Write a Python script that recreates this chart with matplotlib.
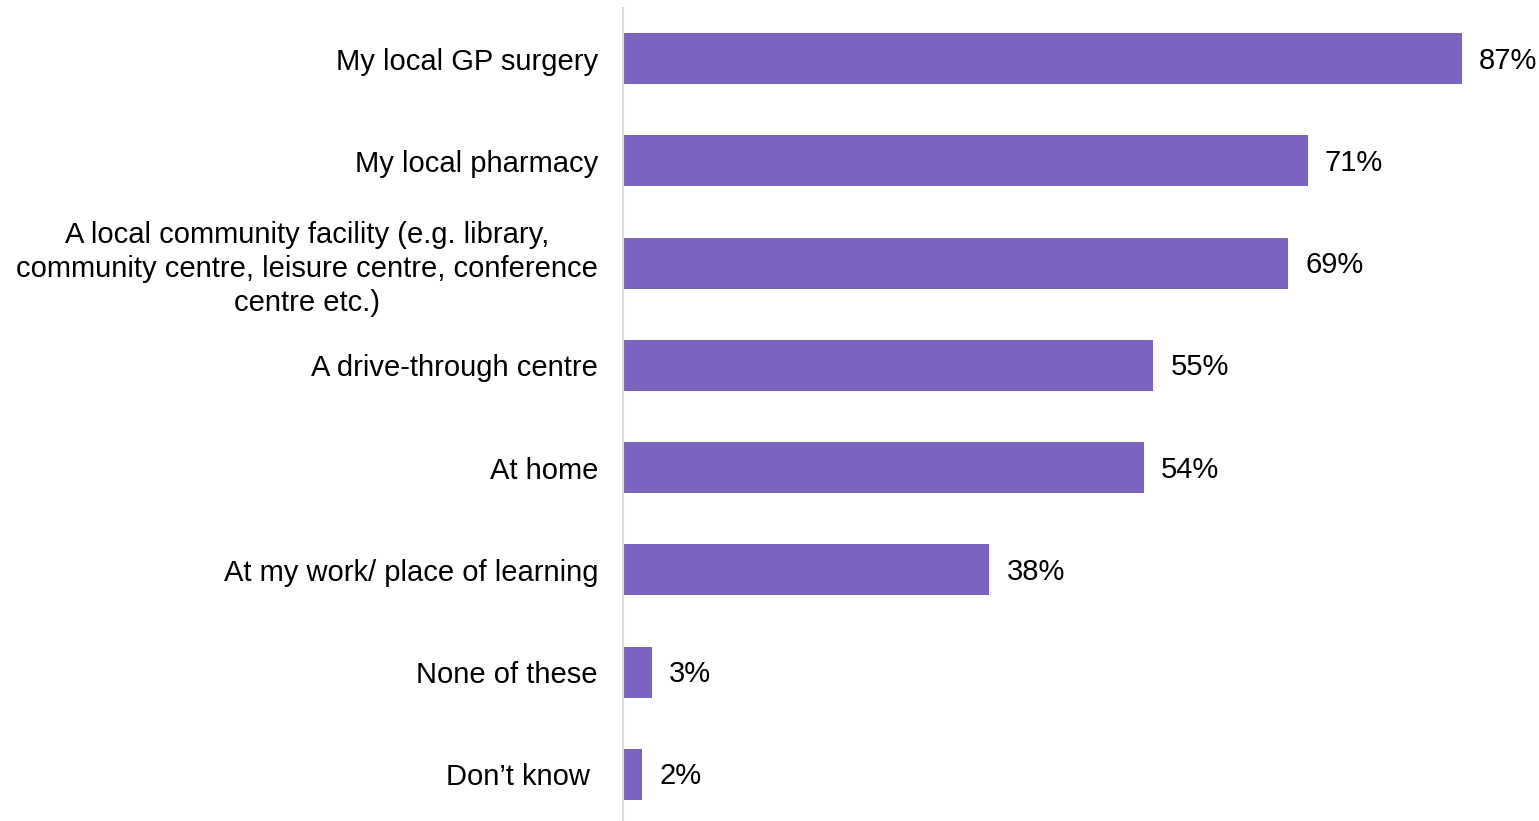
import matplotlib
matplotlib.use("Agg")
import matplotlib.pyplot as plt

categories = [
    "My local GP surgery",
    "My local pharmacy",
    "A local community facility (e.g. library,\ncommunity centre, leisure centre, conference\ncentre etc.)",
    "A drive-through centre",
    "At home",
    "At my work/ place of learning",
    "None of these",
    "Don\u2019t know ",
]
values = [87, 71, 69, 55, 54, 38, 3, 2]
value_labels = ["87%", "71%", "69%", "55%", "54%", "38%", "3%", "2%"]

plt.rcParams['font.family'] = ['Liberation Sans', 'DejaVu Sans']

fig = plt.figure(figsize=(15.39, 8.21), dpi=100)
ax = fig.add_axes([623/1539, 0, 1 - 623/1539, 1 - 8/821])

ypos = list(range(len(categories)))
ax.barh(ypos, values, height=0.5, color="#7B64C0", zorder=2)

for y, v, lab in zip(ypos, values, value_labels):
    ax.annotate(lab, xy=(v, y), xytext=(17, -2), textcoords="offset pixels",
                ha="left", va="center", fontsize=21, color="black", clip_on=False)

ax.set_xlim(0, 95.0)
ax.set_ylim(7.455, -0.494)
ax.set_yticks(ypos)
ax.set_yticklabels(categories, fontsize=21, multialignment="center", linespacing=1.28)
ax.tick_params(axis="y", length=0, pad=18)
ax.set_xticks([])
for s in ["top", "right", "bottom"]:
    ax.spines[s].set_visible(False)
ax.spines["left"].set_color("#D9D9D9")
ax.spines["left"].set_linewidth(1.5)
ax.patch.set_alpha(0)

fig.savefig("out.png", dpi=100)
